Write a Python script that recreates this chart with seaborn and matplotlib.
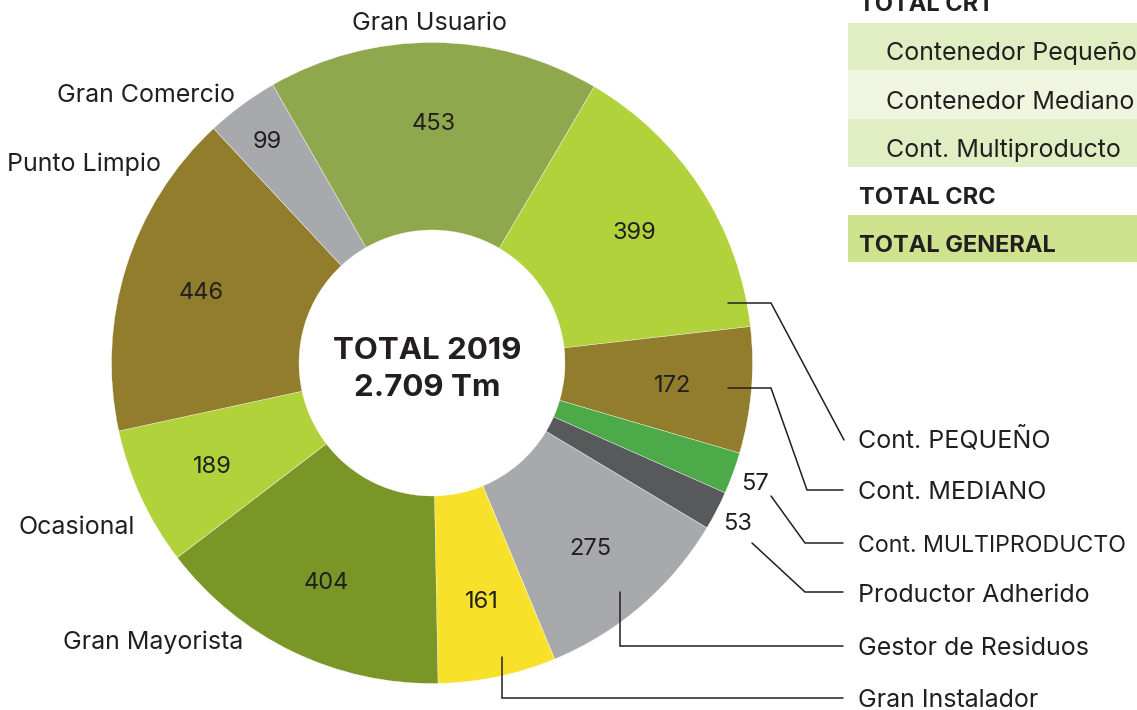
import matplotlib
matplotlib.use("Agg")
import numpy as np
import matplotlib.pyplot as plt
import seaborn as sns
from matplotlib.patches import Rectangle

W, H = 1137, 710

# --- data (clockwise from the top-left edge of "Gran Usuario") ---
categories = ["Gran Usuario", "Cont. PEQUEÑO", "Cont. MEDIANO", "Cont. MULTIPRODUCTO",
              "Productor Adherido", "Gestor de Residuos", "Gran Instalador",
              "Gran Mayorista", "Ocasional", "Punto Limpio", "Gran Comercio"]
tonnes = [453, 399, 172, 57, 53, 275, 161, 404, 189, 446, 99]
slice_colors = ["#90A84D", "#B1D23B", "#917D2B", "#4CAA48", "#58595B", "#A7A9AC",
                "#F8E12B", "#7A9627", "#B1D23B", "#917D2B", "#A7A9AC"]
center_lines = ["TOTAL 2019", "2.709 Tm"]

table_rows = ["TOTAL CRT", "Contenedor Pequeño", "Contenedor Mediano",
              "Cont. Multiproducto", "TOTAL CRC", "TOTAL GENERAL"]
table_bold = [True, False, False, False, True, True]

# --- layout (pixel coords, y measured from the top) ---
CX, CY = 432, 363
R_OUT, R_IN = 320.5, 133
INK = "#231F20"

value_radius = {"Gran Comercio": 278, "Cont. MULTIPRODUCTO": 344, "Productor Adherido": 344}

# name label: (x, baseline y, ha)
name_pos = {
    "Gran Usuario": (430, 29.5, "center"),
    "Gran Comercio": (235, 101.5, "right"),
    "Punto Limpio": (161, 170.5, "right"),
    "Ocasional": (135, 534, "right"),
    "Gran Mayorista": (243, 649.5, "right"),
    "Cont. PEQUEÑO": (858, 448, "left"),
    "Cont. MEDIANO": (858, 499, "left"),
    "Cont. MULTIPRODUCTO": (858, 552, "left"),
    "Productor Adherido": (858, 602, "left"),
    "Gestor de Residuos": (858, 655, "left"),
    "Gran Instalador": (858, 707, "left"),
}
# the long upper-case label has to fit before the right edge
name_size = {"Cont. MULTIPRODUCTO": 16.7}

leaders = {
    "Cont. PEQUEÑO": [(728, 303), (771, 303), (844, 440)],
    "Cont. MEDIANO": [(728, 388), (771, 388), (807, 490), (843, 490)],
    "Cont. MULTIPRODUCTO": [(771, 496), (805, 543), (843, 543)],
    "Productor Adherido": [(752, 543), (805, 592), (843, 592)],
    "Gestor de Residuos": [(620, 592), (620, 646), (843, 646)],
    "Gran Instalador": [(502, 657), (502, 698), (843, 698)],
}

table_text_x = [859, 886, 886, 886, 859, 859]
table_baselines = [10.7, 60, 108.7, 156.7, 204, 251.7]
table_bands = [(22.7, 70.3, "#E1EDC3"), (70.3, 118.7, "#F0F5E0"),
               (118.7, 166.7, "#E1EDC3"), (215, 262.3, "#CFE28E")]


def fy(y):
    return H - y


sns.set_theme(style="white")
plt.rcParams["font.family"] = ["Inter", "DejaVu Sans"]

fig = plt.figure(figsize=(W / 100, H / 100), dpi=100)
ax = fig.add_axes([0, 0, 1, 1])

wedges, _ = ax.pie(tonnes, colors=slice_colors, startangle=119.8, counterclock=False,
                   radius=R_OUT, center=(CX, fy(CY)),
                   wedgeprops=dict(width=R_OUT - R_IN, edgecolor="white", linewidth=0.25))
ax.set_xlim(0, W)
ax.set_ylim(0, H)
ax.set_aspect("auto")
ax.axis("off")

# values along the middle of each slice
for w, val, name in zip(wedges, tonnes, categories):
    mid = np.deg2rad((w.theta1 + w.theta2) / 2)
    r = value_radius.get(name, 242)
    x = CX + r * np.cos(mid)
    y = fy(CY) + r * np.sin(mid)
    ax.text(x, y - 8.5, str(val), ha="center", va="baseline", fontsize=17, color=INK)

# slice names
for name in categories:
    x, yb, ha = name_pos[name]
    ax.text(x, fy(yb), name, ha=ha, va="baseline", fontsize=name_size.get(name, 18), color=INK)

for name, pts in leaders.items():
    xs = [p[0] for p in pts]
    ys = [fy(p[1]) for p in pts]
    ax.plot(xs, ys, color=INK, lw=1.1, solid_joinstyle="miter")

# centre total
ax.text(427, fy(359), center_lines[0], ha="center", va="baseline",
        fontsize=22.5, fontweight="bold", color=INK)
ax.text(427, fy(395.7), center_lines[1], ha="center", va="baseline",
        fontsize=22.5, fontweight="bold", color=INK)

# partial table on the right
for y0, y1, c in table_bands:
    ax.add_patch(Rectangle((848, fy(y1)), W - 848 + 20, y1 - y0, color=c, lw=0, zorder=0))
for label, bold, x, yb in zip(table_rows, table_bold, table_text_x, table_baselines):
    ax.text(x, fy(yb), label, ha="left", va="baseline", color=INK,
            fontsize=17 if bold else 18, fontweight="bold" if bold else "normal")

fig.savefig("out.png", dpi=100, facecolor="white")
